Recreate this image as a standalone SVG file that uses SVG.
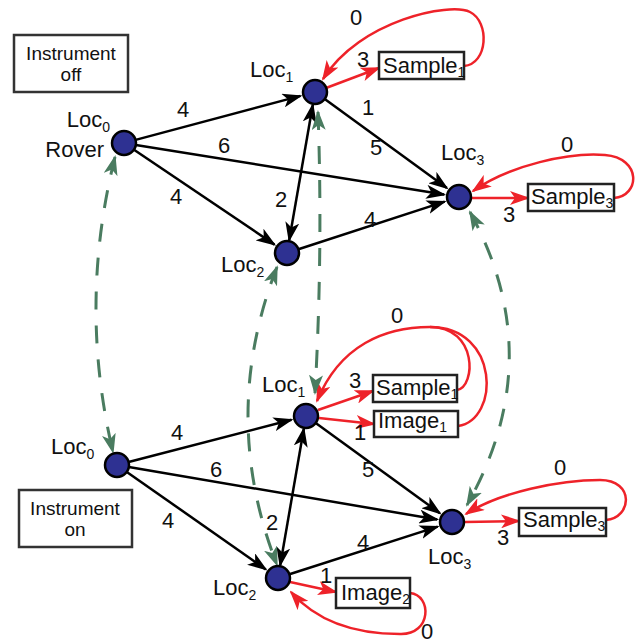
<svg xmlns="http://www.w3.org/2000/svg" width="637" height="643" viewBox="0 0 637 643">
<style>
text{font-family:"Liberation Sans",Arial,sans-serif;font-size:22px;fill:#111}
.sub{font-size:14px}
.inst{font-size:19px}
.lbl{text-anchor:middle}
.node circle{fill:#2e3192;stroke:#000;stroke-width:2.5}
.box{fill:#fff;stroke:#222;stroke-width:2.5}
.blk{fill:none;stroke:#000;stroke-width:2.5;marker-end:url(#ab)}
.dbl{marker-start:url(#ab)}
.red{fill:none;stroke:#ee2229;stroke-width:2.5}
.ra{marker-end:url(#ar)}
.grn{fill:none;stroke:#4a7c60;stroke-width:3;stroke-dasharray:18 16;marker-start:url(#ag);marker-end:url(#ag)}
</style>
<defs>
<marker id="ab" viewBox="0 0 20 14" markerWidth="20" markerHeight="14" refX="18" refY="7" orient="auto-start-reverse" markerUnits="userSpaceOnUse"><path d="M0,0 L20,7 L0,14 L5,7 z" fill="#000"/></marker>
<marker id="ar" viewBox="0 0 20 14" markerWidth="20" markerHeight="14" refX="18" refY="7" orient="auto-start-reverse" markerUnits="userSpaceOnUse"><path d="M0,0 L20,7 L0,14 L5,7 z" fill="#ee2229"/></marker>
<marker id="ag" viewBox="0 0 20 14" markerWidth="20" markerHeight="14" refX="18" refY="7" orient="auto-start-reverse" markerUnits="userSpaceOnUse"><path d="M0,0 L20,7 L0,14 L5,7 z" fill="#4a7c60"/></marker>
</defs>

<g id="connectors">
<!-- top black -->
<path class="blk" d="M135.6,139.9 L300.5,95.9"/>
<path class="blk" d="M135.8,144.9 L444.2,194.6"/>
<path class="blk" d="M134,149.7 L274.5,244.6"/>
<path class="blk dbl" d="M312.8,104.8 L289.2,240.2"/>
<path class="blk" d="M324.7,99.1 L446.9,188.1"/>
<path class="blk" d="M298.4,249.3 L444.7,201.6"/>
<!-- bottom black -->
<path class="blk" d="M128.6,462 L291.5,419.8"/>
<path class="blk" d="M128.8,467 L437.2,519.5"/>
<path class="blk" d="M126.8,471.9 L265.8,569.4"/>
<path class="blk dbl" d="M303.8,428.8 L280.2,565.2"/>
<path class="blk" d="M315.7,423 L439.9,513.2"/>
<path class="blk" d="M289.4,574.3 L437.7,526.6"/>
<!-- red top -->
<path class="red ra" d="M326,88 L379,68"/>
<path class="red ra" d="M464,66 C488,64 490,22 470,12 C450,2 360,20 323,79"/>
<path class="red ra" d="M472,198 L528,198"/>
<path class="red ra" d="M614,198 C640,196 642,158 605,155 C570,152 510,165 473,191"/>
<!-- red bottom -->
<path class="red ra" d="M318,410 L373,391"/>
<path class="red ra" d="M319,418 L374,424"/>
<path class="red" d="M457,390 C476,387 478,327 430,327"/>
<path class="red" d="M458,426 C500,420 500,327 430,327"/>
<path class="red ra" d="M430,327 C385,327 340,345 317,401"/>
<path class="red ra" d="M465,522 L519,521"/>
<path class="red ra" d="M606,520 C632,518 635,480 600,480 C560,480 500,492 466,514"/>
<path class="red ra" d="M290,582 L336,592"/>
<path class="red ra" d="M410,593 C432,595 432,635 400,634 C360,634 320,625 291,592"/>
<!-- green -->
<path class="grn" d="M115,157 Q78,305 113,452"/>
<path class="grn" d="M277,267 Q219,416 277,565"/>
<path class="grn" d="M318,112 Q323,250 315,393"/>
<path class="grn" d="M470,212 Q550,358 467,505"/>
<!-- edge labels -->
<text class="lbl" x="183" y="117">4</text>
<text class="lbl" x="224" y="153">6</text>
<text class="lbl" x="176" y="204">4</text>
<text class="lbl" x="281" y="207">2</text>
<text class="lbl" x="368" y="115">1</text>
<text class="lbl" x="376" y="155">5</text>
<text class="lbl" x="370" y="227">4</text>
<text class="lbl" x="363" y="67">3</text>
<text class="lbl" x="356" y="25">0</text>
<text class="lbl" x="509" y="222">3</text>
<text class="lbl" x="567" y="152">0</text>
<text class="lbl" x="177" y="440">4</text>
<text class="lbl" x="216" y="477">6</text>
<text class="lbl" x="168" y="528">4</text>
<text class="lbl" x="272" y="530">2</text>
<text class="lbl" x="360" y="440">1</text>
<text class="lbl" x="368" y="477">5</text>
<text class="lbl" x="363" y="550">4</text>
<text class="lbl" x="355" y="388">3</text>
<text class="lbl" x="397" y="323">0</text>
<text class="lbl" x="503" y="545">3</text>
<text class="lbl" x="560" y="475">0</text>
<text class="lbl" x="326" y="583">1</text>
<text class="lbl" x="427" y="639">0</text>
</g>

<g id="inst-off"><rect class="box" x="14" y="35" width="114" height="57" style="stroke:#333"/><text class="inst lbl" x="71" y="60">Instrument</text><text class="inst lbl" x="71" y="81">off</text></g>
<g id="inst-on"><rect class="box" x="19" y="490" width="113" height="57" style="stroke:#333"/><text class="inst lbl" x="75" y="515">Instrument</text><text class="inst lbl" x="75" y="536">on</text></g>

<g id="top-loc0" class="node"><circle cx="124" cy="143" r="12"/><text x="110" y="127" text-anchor="end">Loc<tspan class="sub" dy="5">0</tspan></text><text x="104" y="157" text-anchor="end">Rover</text></g>
<g id="top-loc1" class="node"><circle cx="315" cy="92" r="12"/><text x="250" y="77">Loc<tspan class="sub" dy="5">1</tspan></text></g>
<g id="top-loc2" class="node"><circle cx="287" cy="253" r="12"/><text x="221" y="272">Loc<tspan class="sub" dy="5">2</tspan></text></g>
<g id="top-loc3" class="node"><circle cx="459" cy="197" r="12"/><text x="441" y="160">Loc<tspan class="sub" dy="5">3</tspan></text></g>
<g id="top-sample1"><rect class="box" x="379" y="52" width="85" height="27"/><text x="383" y="73">Sample<tspan class="sub" dy="4">1</tspan></text></g>
<g id="top-sample3"><rect class="box" x="528" y="184" width="86" height="27"/><text x="531" y="204">Sample<tspan class="sub" dy="4">3</tspan></text></g>

<g id="bot-loc0" class="node"><circle cx="117" cy="465" r="12"/><text x="51" y="454">Loc<tspan class="sub" dy="5">0</tspan></text></g>
<g id="bot-loc1" class="node"><circle cx="306" cy="416" r="12"/><text x="262" y="392">Loc<tspan class="sub" dy="5">1</tspan></text></g>
<g id="bot-loc2" class="node"><circle cx="278" cy="578" r="12"/><text x="213" y="595">Loc<tspan class="sub" dy="5">2</tspan></text></g>
<g id="bot-loc3" class="node"><circle cx="452" cy="522" r="12"/><text x="428" y="564">Loc<tspan class="sub" dy="5">3</tspan></text></g>
<g id="bot-sample1"><rect class="box" x="373" y="375" width="84" height="27"/><text x="376" y="395">Sample<tspan class="sub" dy="4">1</tspan></text></g>
<g id="bot-image1"><rect class="box" x="374" y="411" width="84" height="26"/><text x="378" y="428">Image<tspan class="sub" dy="4">1</tspan></text></g>
<g id="bot-sample3"><rect class="box" x="519" y="508" width="87" height="28"/><text x="523" y="527">Sample<tspan class="sub" dy="4">3</tspan></text></g>
<g id="bot-image2"><rect class="box" x="336" y="578" width="74" height="30"/><text x="341" y="600">Image<tspan class="sub" dy="4">2</tspan></text></g>
</svg>
